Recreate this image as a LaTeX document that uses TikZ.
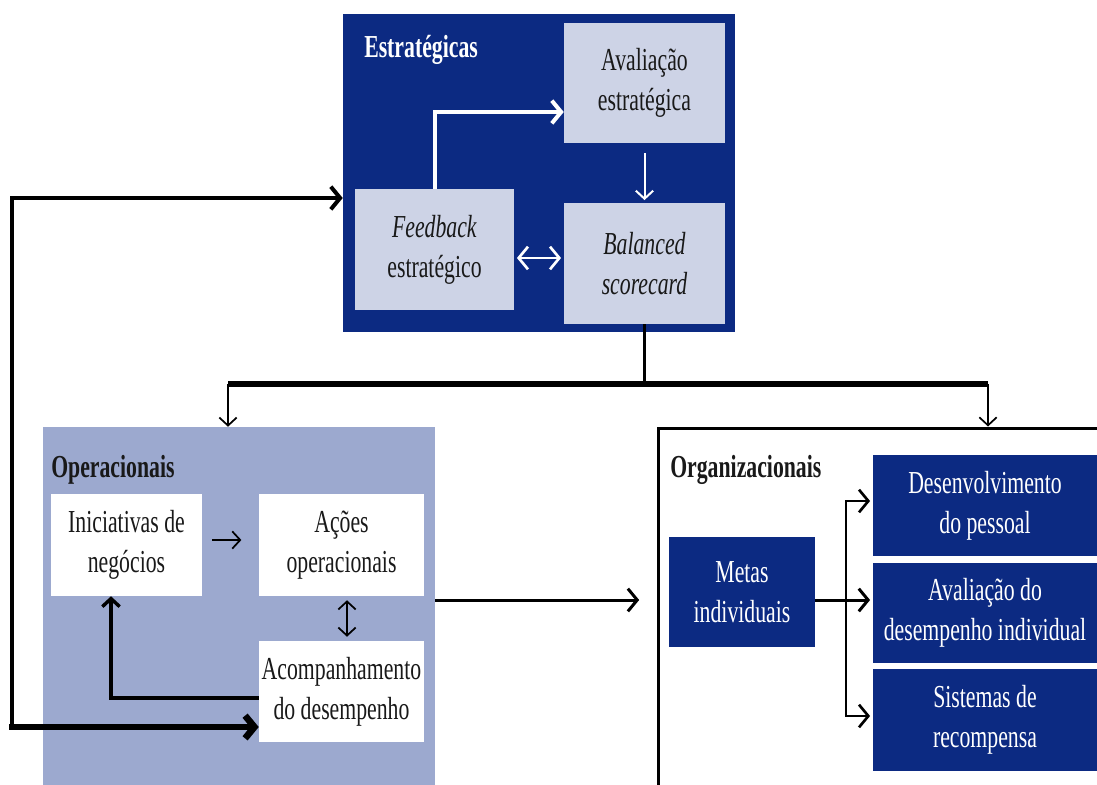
\documentclass[tikz,border=0pt]{standalone}
\usepackage{fontspec}
\setmainfont{Liberation Serif}[FakeStretch=0.68]
\usetikzlibrary{arrows.meta}
\definecolor{navy}{RGB}{12,42,130}
\definecolor{pale}{RGB}{205,211,230}
\definecolor{opfill}{RGB}{156,169,207}
\definecolor{ink}{RGB}{25,25,25}
\begin{document}
\begin{tikzpicture}[x=0.75pt,y=-0.75pt,
  % a rectangle given by its corners (x1,y1) and (x2,y2)
  span/.style n args={4}{rectangle, inner sep=0pt, anchor=center,
    minimum width={(#3-#1)*0.75pt}, minimum height={(#4-#2)*0.75pt},
    at={({(#1+#3)/2},{(#2+#4)/2})}},
  box/.style={inner sep=0pt, align=center, font=\fontsize{24}{30}\selectfont},
  palebox/.style={box, fill=pale, text=ink},
  navybox/.style={box, fill=navy, text=white},
  whitebox/.style={box, fill=white, text=ink},
  grouplabel/.style={anchor=base west, inner sep=0pt, font=\fontsize{24}{30}\selectfont\bfseries},
  barb/.tip={Straight Barb[length=6pt,width=13pt]},
  bigbarb/.tip={Straight Barb[length=7pt,width=17pt]},
  wline/.style={draw=white, line width=3pt, -{bigbarb}},
  wthin/.style={draw=white, line width=1.5pt},
  bthin/.style={draw=black, line width=1.3pt},
]
\clip (0,0) rectangle (1097,785);
\fill[white] (0,0) rectangle (1097,785);

% --- strategic level ---
\node[span={343}{14}{735}{332}, fill=navy] (strat) {};
\node[grouplabel, text=white] (stratlbl) at (364,57) {Estratégicas};
\node[palebox, span={564}{23}{725}{143}] (aval) {Avaliação\\estratégica};
\node[palebox, span={355}{189}{514}{310}] (feed) {\textit{Feedback}\\estratégico};
\node[palebox, span={564}{203}{725}{324}] (bal) {\textit{Balanced}\\\textit{scorecard}};

\coordinate (wturn) at (436,112);
\draw[wline] (feed.north) |- (aval.west |- wturn);
\draw[wthin, -{barb}, shorten <=7.5pt, shorten >=2pt] (aval.south) -- (bal.north);
\coordinate (dbl) at (536,258);
\draw[wthin, line width=2pt, {bigbarb}-{bigbarb}, shorten <=2pt, shorten >=2pt]
  (feed.east |- dbl) -- (bal.west |- dbl);

% --- operational level ---
\node[span={43}{427}{435}{800}, fill=opfill] (op) {};
\node[grouplabel, text=ink] (oplbl) at (51,477) {Operacionais};
\node[whitebox, span={51}{494}{202}{596}] (inic) {Iniciativas de\\negócios};
\node[whitebox, span={259}{494}{424}{596}] (acoes) {Ações\\operacionais};
\node[whitebox, span={259}{641}{424}{742}] (acomp) {Acompanhamento\\do desempenho};

\coordinate (ia) at (0,540);
\draw[bthin, -{barb}, shorten <=7.5pt, shorten >=13pt] (inic.east |- ia) -- (acoes.west |- ia);
\coordinate (aa) at (347,0);
\draw[bthin, {barb}-{barb}, shorten <=3pt, shorten >=3pt] (acoes.south -| aa) -- (acomp.north -| aa);
\coordinate (fb) at (111,698);
\draw[line width=2.6pt, -{barb}] (acomp.west |- fb) -| (inic.south -| fb);

% --- organisational level ---
\node[span={658}{428}{1120}{810}, fill=white, draw=black, line width=2.25pt] (org) {};
\node[grouplabel, text=ink] (orglbl) at (670,477) {Organizacionais};
\node[navybox, span={669}{537}{815}{647}] (metas) {Metas\\individuais};
\node[navybox, span={873}{455}{1097}{556}] (desenv) {Desenvolvimento\\do pessoal};
\node[navybox, span={873}{563}{1097}{663}] (avdes) {Avaliação do\\desempenho individual};
\node[navybox, span={873}{669}{1097}{771}] (sist) {Sistemas de\\recompensa};

\coordinate (oo) at (0,600);
\draw[line width=2.25pt, -{bigbarb}, shorten >=13pt] (op.east |- oo) -- (org.west |- oo);
\draw[line width=2.25pt, -{bigbarb}, shorten >=2pt] (metas.east |- oo) -- (avdes.west |- oo);
\coordinate (br1) at (846,501);
\coordinate (br2) at (846,716);
\draw[line width=2pt, {bigbarb}-{bigbarb}, shorten <=2pt, shorten >=2pt]
  (desenv.west |- br1) -- (br1) -- (br2) -- (sist.west |- br2);

% --- distribution from the scorecard ---
\coordinate (bus) at (642,384);
\coordinate (busL) at (228,384);
\coordinate (busR) at (988,384);
\draw[line width=2.25pt] (bal.south) -- (bal.south |- bus);
\draw[line width=5pt] (busL) -- (busR);
\draw[bthin, -{barb}] (busL) -- (busL |- op.north);
\draw[bthin, -{barb}] (busR) -- (busR |- org.north);

% --- strategic feedback loop ---
\coordinate (lt) at (12,198);
\coordinate (lb) at (12,727);
\draw[line width=3pt, -{bigbarb}] (lb) -- (lt) -- (strat.west |- lt);
\draw[line width=5pt, line cap=rect, -{bigbarb}] (lb) -- (acomp.west |- lb);
\end{tikzpicture}
\end{document}
